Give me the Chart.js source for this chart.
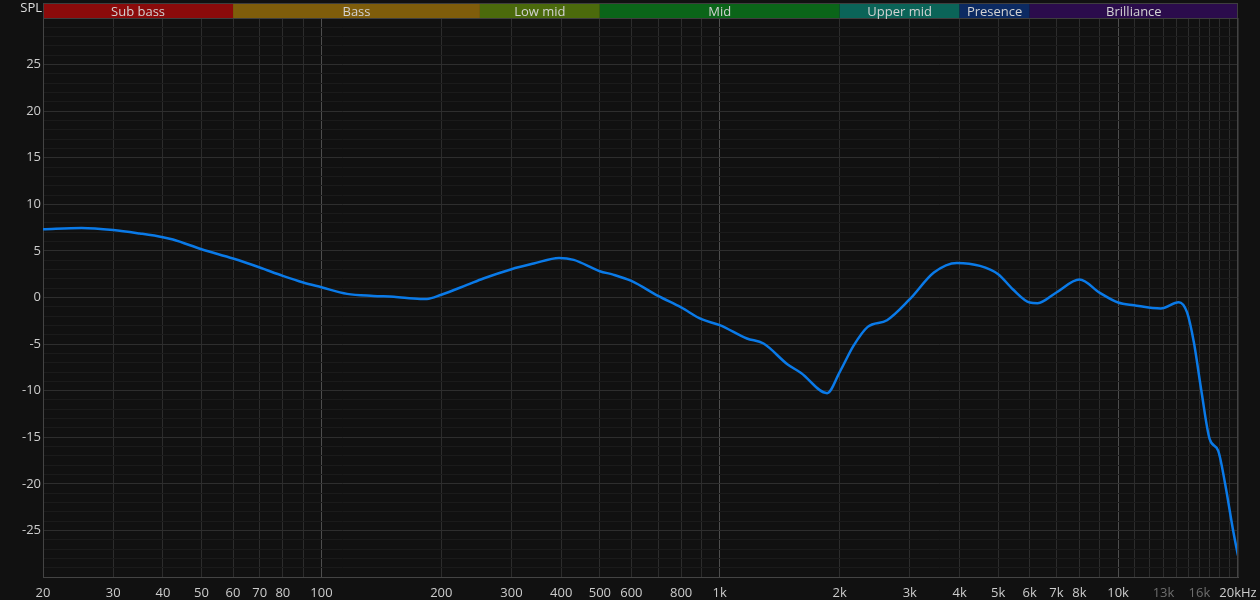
<!DOCTYPE html>
<html>
<head>
<meta charset="utf-8">
<script src="https://cdn.jsdelivr.net/npm/chart.js@4.4.1/dist/chart.umd.min.js"></script>
<style>
  html, body { margin: 0; padding: 0; background: #111111; }
  #wrap { width: 1260px; height: 600px; position: relative; }
</style>
</head>
<body>
<div id="wrap"><canvas id="c" width="1260" height="600"></canvas></div>
<script>
// ---- data ----
const freqs = [20, 25, 30, 35, 40, 42.4, 50, 60, 70, 80, 90, 100, 116, 135, 152, 177, 184, 200, 232, 255, 300, 341, 395, 430, 500, 540, 600, 700, 800, 900, 1000, 1170, 1288, 1478, 1600, 1860, 2000, 2166, 2352, 2630, 3000, 3448, 3940, 4500, 5000, 5440, 6000, 6280, 7000, 8000, 9000, 10000, 10960, 12800, 14200, 14900, 15500, 16160, 16980, 17840, 18540, 19480, 20000];
const spl = [7.33, 7.47, 7.25, 6.87, 6.47, 6.22, 5.18, 4.18, 3.22, 2.32, 1.61, 1.1, 0.39, 0.17, 0.08, -0.15, -0.15, 0.3, 1.35, 2.04, 3.04, 3.64, 4.25, 4.04, 2.82, 2.46, 1.78, 0.17, -1.07, -2.33, -2.97, -4.4, -4.94, -7.16, -8.1, -10.27, -8.0, -5.19, -3.15, -2.44, -0.18, 2.68, 3.71, 3.39, 2.5, 0.89, -0.54, -0.61, 0.54, 1.93, 0.5, -0.54, -0.83, -1.18, -0.5, -1.6, -4.83, -9.84, -15.2, -16.46, -19.85, -25.2, -27.7];

const xTickValues = [20, 30, 40, 50, 60, 70, 80, 90, 100, 200, 300, 400, 500, 600, 700, 800, 900, 1000, 2000, 3000, 4000, 5000, 6000, 7000, 8000, 9000, 10000, 11000, 12000, 13000, 14000, 15000, 16000, 17000, 18000, 19000, 20000];
const xTickLabels = {20:'20',30:'30',40:'40',50:'50',60:'60',70:'70',80:'80',100:'100',200:'200',300:'300',400:'400',500:'500',600:'600',800:'800',1000:'1k',2000:'2k',3000:'3k',4000:'4k',5000:'5k',6000:'6k',7000:'7k',8000:'8k',10000:'10k',13000:'13k',16000:'16k',20000:'20kHz'};
const dimLabels = [13000, 16000];
const decadeLines = [100, 1000, 10000];

const yMin = -30, yMax = 30;
const yTickValues = [];
for (let v = yMin; v <= yMax; v++) yTickValues.push(v);

const bandNames = ['Sub bass', 'Bass', 'Low mid', 'Mid', 'Upper mid', 'Presence', 'Brilliance'];
const bandEdges = [20, 60, 250, 500, 2000, 4000, 6000, 20000];
const bandColors = ['#8b0b0b', '#7f5d0b', '#4b6a0c', '#0b6519', '#0b6458', '#0c2a62', '#2b0c4c'];

// ---- chart ----
Chart.defaults.font.family = "'Open Sans', 'Noto Sans', sans-serif";
Chart.defaults.font.size = 13;

const bgPlugin = {
  id: 'bg',
  beforeDraw(chart) {
    const ctx = chart.ctx;
    ctx.save();
    ctx.fillStyle = '#111111';
    ctx.fillRect(0, 0, chart.width, chart.height);
    ctx.restore();
  },
  afterDraw(chart) {
    const ctx = chart.ctx;
    const xs = chart.scales.x;
    const area = chart.chartArea;
    ctx.save();
    const top = 3, h = 15;
    for (let i = 0; i < bandNames.length; i++) {
      const x0 = xs.getPixelForValue(bandEdges[i]);
      const x1 = xs.getPixelForValue(bandEdges[i + 1]);
      ctx.fillStyle = bandColors[i];
      ctx.fillRect(x0, top, x1 - x0, h);
    }
    ctx.strokeStyle = '#3e3e3e';
    ctx.lineWidth = 1;
    ctx.strokeRect(Math.round(area.left) + 0.5, top + 0.5, Math.round(area.right - area.left) - 1, h);
    ctx.font = "13px 'Open Sans', 'Noto Sans', sans-serif";
    ctx.fillStyle = '#d2d2d2';
    ctx.textAlign = 'center';
    ctx.textBaseline = 'middle';
    for (let i = 0; i < bandNames.length; i++) {
      const x0 = xs.getPixelForValue(bandEdges[i]);
      const x1 = xs.getPixelForValue(bandEdges[i + 1]);
      ctx.fillText(bandNames[i], (x0 + x1) / 2, 12);
    }
    ctx.textAlign = 'right';
    ctx.fillStyle = '#dddddd';
    ctx.fillText('SPL', 42, 8);
    // right border
    ctx.strokeStyle = '#444444';
    ctx.beginPath();
    ctx.moveTo(Math.round(area.right) - 0.5, area.top);
    ctx.lineTo(Math.round(area.right) - 0.5, area.bottom);
    ctx.stroke();
    ctx.restore();
  }
};

new Chart(document.getElementById('c'), {
  type: 'line',
  data: {
    datasets: [{
      data: freqs.map((f, i) => ({ x: f, y: spl[i] })),
      borderColor: '#0a7ae8',
      borderWidth: 2.5,
      pointRadius: 0,
      cubicInterpolationMode: 'monotone',
      fill: false
    }]
  },
  options: {
    responsive: false,
    animation: false,
    events: [],
    layout: { padding: { top: 18, right: 22, left: 0, bottom: 0 } },
    plugins: { legend: { display: false }, tooltip: { enabled: false } },
    scales: {
      x: {
        type: 'logarithmic',
        min: 20,
        max: 20000,
        afterBuildTicks(scale) { scale.ticks = xTickValues.map(v => ({ value: v })); },
        afterFit(scale) { scale.height = 23; scale.paddingRight = 0; scale.paddingLeft = 0; },
        border: { display: true, color: '#444444' },
        grid: {
          drawTicks: false,
          color: (c) => decadeLines.includes(c.tick && c.tick.value) ? '#4e4e4e' : '#2c2c2c'
        },
        ticks: {
          autoSkip: false,
          maxRotation: 0,
          padding: 8,
          color: (c) => dimLabels.includes(c.tick && c.tick.value) ? '#6e6e6e' : '#cccccc',
          callback: (v) => xTickLabels[v] !== undefined ? xTickLabels[v] : ''
        }
      },
      y: {
        type: 'linear',
        min: yMin,
        max: yMax,
        afterBuildTicks(scale) { scale.ticks = yTickValues.map(v => ({ value: v })); },
        afterFit(scale) { scale.width = 43; scale.paddingTop = 0; scale.paddingBottom = 0; },
        border: { display: true, color: '#444444' },
        grid: {
          drawTicks: false,
          color: (c) => {
            const v = c.tick ? c.tick.value : 0;
            if (v === yMin || v === yMax) return '#444444';
            return v % 5 === 0 ? '#2e2e2e' : '#1b1b1b';
          }
        },
        ticks: {
          autoSkip: false,
          padding: 2,
          color: '#cccccc',
          callback: (v) => (v % 5 === 0 && Math.abs(v) < 30) ? String(v) : ''
        }
      }
    }
  },
  plugins: [bgPlugin]
});
</script>
</body>
</html>
